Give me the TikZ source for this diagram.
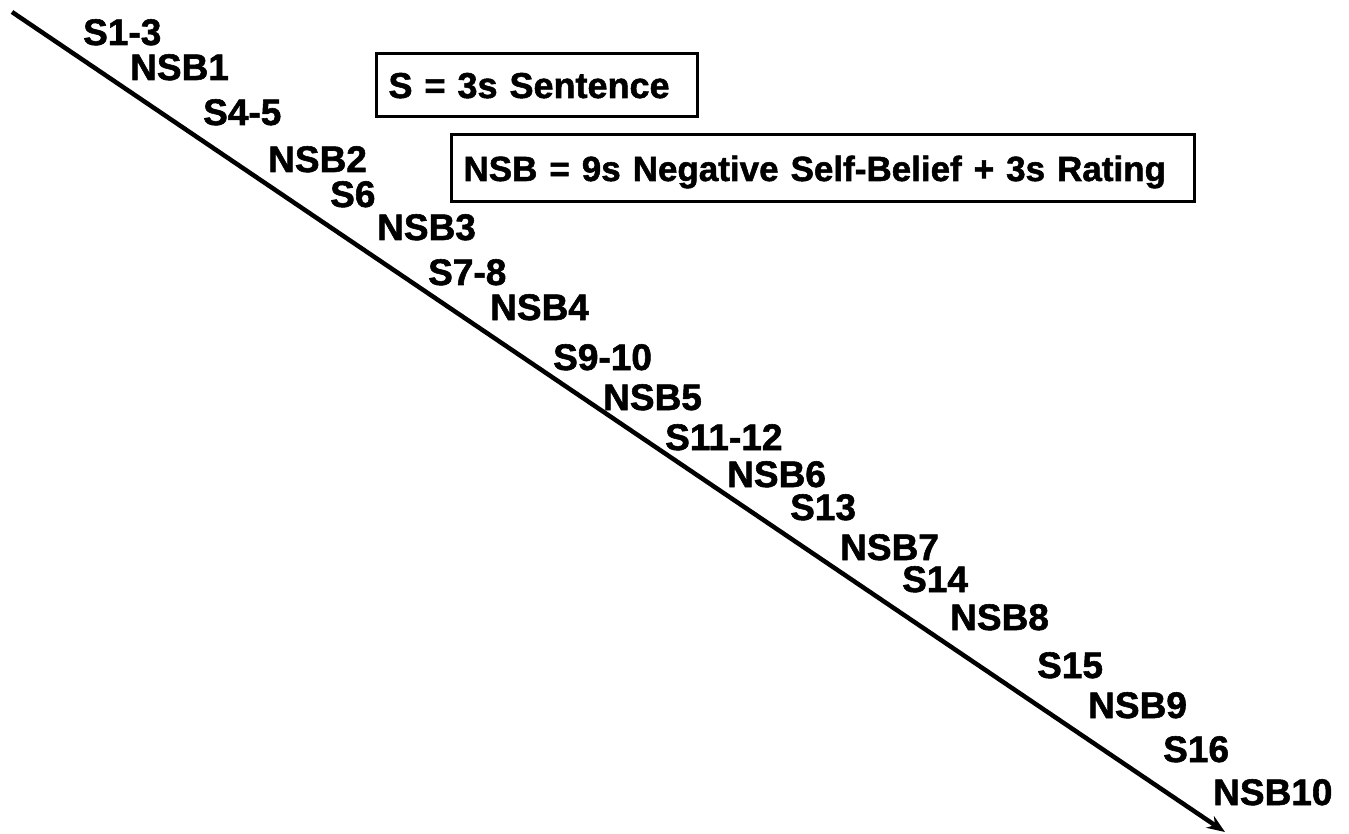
\documentclass[tikz,border=0pt]{standalone}
\usepackage{fontspec}
\setmainfont{Liberation Sans}[BoldFeatures={FakeBold=1.5}]
\usetikzlibrary{arrows.meta}

\begin{document}
\begin{tikzpicture}[x=1pt, y=-1pt,
        lbl/.style={anchor=base west, inner sep=0pt, font=\fontsize{37}{40}\selectfont\bfseries},
        keybox/.style={draw, line width=3pt, anchor=north west, align=left, inner xsep=12pt,
            text height=26pt, text depth=0pt, font=\fontsize{36}{40}\selectfont\bfseries}]
        \useasboundingbox (0,0) rectangle (1349,834);

        % Timeline
        \coordinate (start) at (12,12);
        \coordinate (end) at (1225,832);
        \draw[line width=4.5pt, -{Stealth[length=18pt, width=14pt]}] (start) -- (end);

        % Nodes
        \node[lbl] (s1) at (83,45) {S1-3};
        \node[lbl] (n1) at (130,80) {NSB1};
        \node[lbl] (s2) at (203,125) {S4-5};
        \node[lbl] (n2) at (268,172) {NSB2};
        \node[lbl] (s3) at (330,207) {S6};
        \node[lbl] (n3) at (377,240) {NSB3};
        \node[lbl] (s4) at (428,285) {S7-8};
        \node[lbl] (n4) at (490,320) {NSB4};
        \node[lbl] (s5) at (553,370) {S9-10};
        \node[lbl] (n5) at (603,410) {NSB5};
        \node[lbl] (s6) at (665,450) {S11-12};
        \node[lbl] (n6) at (727,487) {NSB6};
        \node[lbl] (s7) at (790,520) {S13};
        \node[lbl] (n7) at (840,560) {NSB7};
        \node[lbl] (s8) at (902,592) {S14};
        \node[lbl] (n8) at (950,630) {NSB8};
        \node[lbl] (s9) at (1037,678) {S15};
        \node[lbl] (n9) at (1088,718) {NSB9};
        \node[lbl] (s10) at (1163,762) {S16};
        \node[lbl] (n10) at (1213,805) {NSB10};

        % Legend
        \node[keybox, text width=297pt, minimum height=63pt] (keyS) at (375,52) {\mbox{S = 3s Sentence}};
        \node[keybox, text width=719pt, minimum height=67pt] (keyNSB) at (450,133)
            {\mbox{\fontsize{35}{40}\selectfont NSB = 9s Negative Self-Belief + 3s Rating}};
    \end{tikzpicture}
\end{document}
